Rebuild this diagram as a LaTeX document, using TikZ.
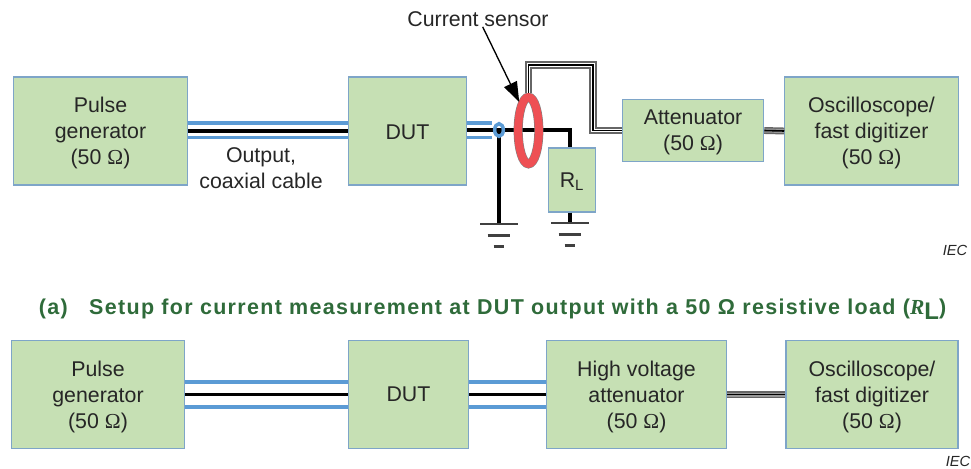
\documentclass[tikz,border=0pt]{standalone}
\usepackage{fontspec}
\setmainfont{Liberation Sans}
\newfontfamily\capfont[LetterSpace=6.2]{Liberation Sans}
\newfontfamily\symbfont{Liberation Serif}
\usepackage{xcolor}
\usetikzlibrary{arrows.meta,positioning,shapes.geometric}
\definecolor{boxfill}{RGB}{198,224,180}
\definecolor{boxline}{RGB}{126,165,200}
\definecolor{coaxblue}{RGB}{91,155,213}
\definecolor{ringred}{RGB}{238,80,84}
\definecolor{capgreen}{RGB}{47,107,58}
\newcommand{\ohm}{(50 {\symbfont Ω})}

\begin{document}
\begin{tikzpicture}[
  x=0.75pt,y=-0.75pt,
  box/.style={draw=boxline,line width=0.9pt,fill=boxfill,align=center,inner sep=0pt,
              text=black!85,text depth=0pt,font=\fontsize{16}{19.5}\selectfont},
  label/.style={align=center,inner sep=0pt,text=black!85,font=\fontsize{16}{20}\selectfont},
  iec/.style={inner sep=0pt,text=black!85,font=\fontsize{11}{12}\selectfont\itshape},
  coaxshield/.style={coaxblue,line width=2.6pt},
  coaxcore/.style={black,line width=2.4pt},
  wire/.style={black,line width=2.4pt},
  probeline/.style={draw=black!60,line width=5.4pt,
                    postaction={draw=white,line width=2.8pt},
                    postaction={draw=black,line width=1.2pt}},
  scopeline/.style={draw=black!60,line width=5.2pt,
                    postaction={draw=black!40,line width=3pt},
                    postaction={draw=black,line width=1.2pt}},
  gndbar/.style={black!75,line width=1.9pt},
  arrow/.style={-{Triangle[length=15pt,width=10.5pt]},line width=1pt}
]
\useasboundingbox (0,0) rectangle (971,468);

\node[box,minimum width=130pt,minimum height=81pt] (pulsea) at (100.5,131) {Pulse\\generator\\\ohm};
\node[box,minimum width=89pt,minimum height=81pt] (duta) at (407.5,131) {\raisebox{-2pt}{DUT}};
\node[box,minimum width=106pt,minimum height=46pt] (atten) at (693,130.5) {Attenuator\\\ohm};
\node[box,minimum width=130pt,minimum height=81pt] (scopea) at (871.5,131) {Oscilloscope/\\fast digitizer\\\ohm};
\node[box,minimum width=35pt,minimum height=48pt] (load) at (572,180) {R\textsubscript{L}};

\node[label] (cable) at (261,168) {Output,\\coaxial cable};
\node[label] (sensor) at (478,19) {Current sensor};
\node[iec] (ieca) at (955,250) {IEC};

\node[inner sep=0pt,font=\capfont\bfseries\fontsize{16.1}{19}\selectfont,text=capgreen] (caption) at (492.5,309)
  {(a)\quad Setup for current measurement at DUT output with a 50 Ω resistive load ({\symbfont\itshape R}\raisebox{-4pt}{\fontsize{18}{19}\selectfont L})};

\node[box,minimum width=130pt,minimum height=81pt] (pulseb) at (98,394.5) {Pulse\\generator\\\ohm};
\node[box,minimum width=90pt,minimum height=81pt] (dutb) at (408.5,394.5) {DUT};
\node[box,minimum width=135pt,minimum height=81pt] (hvatten) at (636.5,394.5) {High voltage\\attenuator\\\ohm};
\node[box,minimum width=129pt,minimum height=81pt] (scopeb) at (872,394.5) {Oscilloscope/\\fast digitizer\\\ohm};
\node[iec] (iecb) at (958,461) {IEC};

% top row
\draw[coaxshield] ([yshift=6pt]pulsea.east) -- ([yshift=6pt]duta.west);
\draw[coaxshield] ([yshift=-5pt]pulsea.east) -- ([yshift=-5pt]duta.west);
\draw[coaxcore] (pulsea.east) -- (duta.west);

\coordinate (shield) at (499,130);
\coordinate (corner) at (570,130);
\coordinate (gndtop) at (499,224);
\coordinate (loadgnd) at (570,223);
\draw[wire] (duta.east |- shield) -- (corner) -- (corner |- load.north);
\draw[wire] (shield) -- (gndtop);
\draw[wire] (corner |- load.south) -- (loadgnd);
\draw[coaxshield] ([yshift=6pt]duta.east) -- ++(25,0);
\draw[coaxshield] ([yshift=-5pt]duta.east) -- ++(25,0);
\node[draw=coaxblue,line width=2.6pt,ellipse,inner sep=0pt,minimum width=6.5pt,minimum height=9.5pt] (shieldend) at (shield) {};

% ground symbols
\draw[gndbar] ([xshift=-14pt]gndtop) -- ([xshift=14pt]gndtop);
\draw[gndbar] ([shift={(-8.5pt,-8.5pt)}]gndtop) -- ([shift={(8.5pt,-8.5pt)}]gndtop);
\draw[gndbar] ([shift={(-4pt,-17pt)}]gndtop) -- ([shift={(4pt,-17pt)}]gndtop);
\draw[gndbar] ([xshift=-14pt]loadgnd) -- ([xshift=14pt]loadgnd);
\draw[gndbar] ([shift={(-8.5pt,-8.5pt)}]loadgnd) -- ([shift={(8.5pt,-8.5pt)}]loadgnd);
\draw[gndbar] ([shift={(-4pt,-17pt)}]loadgnd) -- ([shift={(4pt,-17pt)}]loadgnd);

% sensor ring
\node[ellipse,draw=black!50,line width=0.4pt,double=ringred,double distance=6pt,outer sep=3pt,
      inner sep=0pt,minimum width=15.5pt,minimum height=50pt] (ring) at (528.5,130.5) {};
\draw[arrow] ([xshift=3.5pt]sensor.south) -- (ring.108);

% probe output
\coordinate (upa) at (528.5,65);
\coordinate (upb) at (593,65);
\draw[probeline] (ring.north) -- (upa) -- (upb) |- (atten.west);
\draw[scopeline] (atten.east) -- (scopea.west);

% bottom row
\draw[coaxshield] ([yshift=9.5pt]pulseb.east) -- ([yshift=9.5pt]dutb.west);
\draw[coaxshield] ([yshift=-9.5pt]pulseb.east) -- ([yshift=-9.5pt]dutb.west);
\draw[coaxcore] (pulseb.east) -- (dutb.west);
\draw[coaxshield] ([yshift=9.5pt]dutb.east) -- ([yshift=9.5pt]hvatten.west);
\draw[coaxshield] ([yshift=-9.5pt]dutb.east) -- ([yshift=-9.5pt]hvatten.west);
\draw[coaxcore] (dutb.east) -- (hvatten.west);
\draw[scopeline] (hvatten.east) -- (scopeb.west);
\end{tikzpicture}
\end{document}
